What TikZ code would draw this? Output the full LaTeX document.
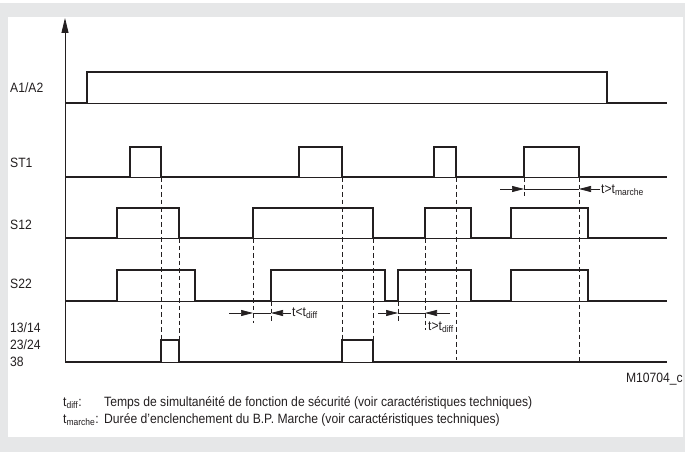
\documentclass[tikz,border=0pt]{standalone}
\usepackage{fontspec}
\setmainfont{Liberation Sans}[FakeStretch=0.90]
\usetikzlibrary{arrows.meta}

\definecolor{framegray}{HTML}{E6E7E8}
\definecolor{ink}{HTML}{231F20}

\begin{document}
\begin{tikzpicture}[
  x=1pt, y=-1pt,
  font=\fontsize{13.5}{17}\selectfont,
  line join=miter,
  sig/.style={
    line width=2.1pt,
    draw=ink
  },
  baseln/.style={
    line width=0.9pt,
    draw=ink
  },
  guide/.style={
    line width=0.9pt,
    draw=ink,
    dash pattern=on 4.5pt off 3pt
  },
  axisln/.style={
    line width=0.8pt,
    draw=ink,
    -{Triangle[length=15pt,width=7pt]}
  },
  dimarrow/.style={
    line width=0.7pt,
    draw=ink,
    -{Triangle[length=12pt,width=6pt]}
  },
  dimline/.style={
    line width=0.7pt,
    draw=ink
  },
  rowlab/.style={
    anchor=west,
    align=left,
    inner sep=0pt,
    text=ink
  },
  lab/.style={
    anchor=west,
    inner sep=0pt,
    text=ink
  }
]

% Frame
\fill[framegray] (0,0) rectangle (685,452);
\fill[white] (0,0) rectangle (685,3);
\fill[white] (8,17) rectangle (683,437);
\useasboundingbox (0,0) rectangle (685,452);

% Row labels
\node[rowlab] (la)   at (10, 88)  {A1/A2};
\node[rowlab] (lst)  at (10,163)  {ST1};
\node[rowlab] (ls12) at (10,225)  {S12};
\node[rowlab] (ls22) at (10,284)  {S22};
\node[rowlab] (lout) at (10,345)  {13/14\\23/24\\38};

% Time axis
\coordinate (org) at (65,362);
\coordinate (top) at (65,18);
\draw[axisln] (org) -- (top);

% Base lines
\draw[baseln] (65,103) -- (667,103);
\draw[baseln] (65,177) -- (667,177);
\draw[baseln] (65,238) -- (667,238);
\draw[baseln] (65,301) -- (667,301);
\draw[baseln] (65,362) -- (667,362);

% Signals
\draw[sig] (65,103) -- (87,103) -- (87,72) -- (607,72) -- (607,103) -- (667,103);

\draw[sig] (65,177) -- (130,177) -- (130,147) -- (161,147) -- (161,177)
  -- (299,177) -- (299,147) -- (342,147) -- (342,177)
  -- (434,177) -- (434,147) -- (456,147) -- (456,177)
  -- (524,177) -- (524,147) -- (579,147) -- (579,177) -- (667,177);

\draw[sig] (65,238) -- (117,238) -- (117,208) -- (179,208) -- (179,238)
  -- (253,238) -- (253,208) -- (373,208) -- (373,238)
  -- (425,238) -- (425,208) -- (471,208) -- (471,238)
  -- (511,238) -- (511,208) -- (588,208) -- (588,238) -- (667,238);

\draw[sig] (65,301) -- (117,301) -- (117,270) -- (195,270) -- (195,301)
  -- (271,301) -- (271,270) -- (385,270) -- (385,301)
  -- (398,301) -- (398,270) -- (471,270) -- (471,301)
  -- (511,301) -- (511,270) -- (588,270) -- (588,301) -- (667,301);

\draw[sig] (65,362) -- (161,362) -- (161,340) -- (179,340) -- (179,362)
  -- (342,362) -- (342,340) -- (373,340) -- (373,362) -- (667,362);

% Guide lines
\draw[guide] (161,177) -- (161,340);
\draw[guide] (179,238) -- (179,340);
\draw[guide] (253,238) -- (253,323);
\draw[guide] (271,301) -- (271,323);
\draw[guide] (342,177) -- (342,340);
\draw[guide] (373,238) -- (373,340);
\draw[guide] (398,301) -- (398,323);
\draw[guide] (425,238) -- (425,330);
\draw[guide] (456,177) -- (456,360);
\draw[guide] (524,177) -- (524,196);
\draw[guide] (579,177) -- (579,362);

% Time limits
\coordinate (d1a) at (229,313);
\coordinate (d1b) at (253,313);
\coordinate (d1c) at (271,313);
\coordinate (d1d) at (291,313);
\draw[dimarrow] (d1a) -- (d1b);
\draw[dimline]  (d1b) -- (d1c);
\draw[dimarrow] (d1d) -- (d1c);
\node[lab] (tlt) at (292,313) {t<t\textsubscript{diff}};

\coordinate (d2a) at (378,313);
\coordinate (d2b) at (398,313);
\coordinate (d2c) at (425,313);
\coordinate (d2d) at (450,313);
\draw[dimarrow] (d2a) -- (d2b);
\draw[dimline]  (d2b) -- (d2c);
\draw[dimarrow] (d2d) -- (d2c);
\node[lab] (tgt) at (428,327) {t>t\textsubscript{diff}};

\coordinate (m1a) at (500,189);
\coordinate (m1b) at (524,189);
\coordinate (m1c) at (579,189);
\coordinate (m1d) at (600,189);
\draw[dimarrow] (m1a) -- (m1b);
\draw[dimline]  (m1b) -- (m1c);
\draw[dimarrow] (m1d) -- (m1c);
\node[lab] (tmar) at (601,190) {t>t\textsubscript{marche}};

% Reference and legend
\node[anchor=east, inner sep=0pt, text=ink] (ref) at (683,379) {M10704\_c};

\node[lab] (kd)  at (63,403)  {t\textsubscript{diff}:};
\node[lab] (kdt) at (104,403) {Temps de simultanéité de fonction de sécurité (voir caractéristiques techniques)};
\node[lab] (km)  at (63,420)  {t\textsubscript{marche}:};
\node[lab] (kmt) at (104,420) {Durée d'enclenchement du B.P. Marche (voir caractéristiques techniques)};

\end{tikzpicture}
\end{document}
